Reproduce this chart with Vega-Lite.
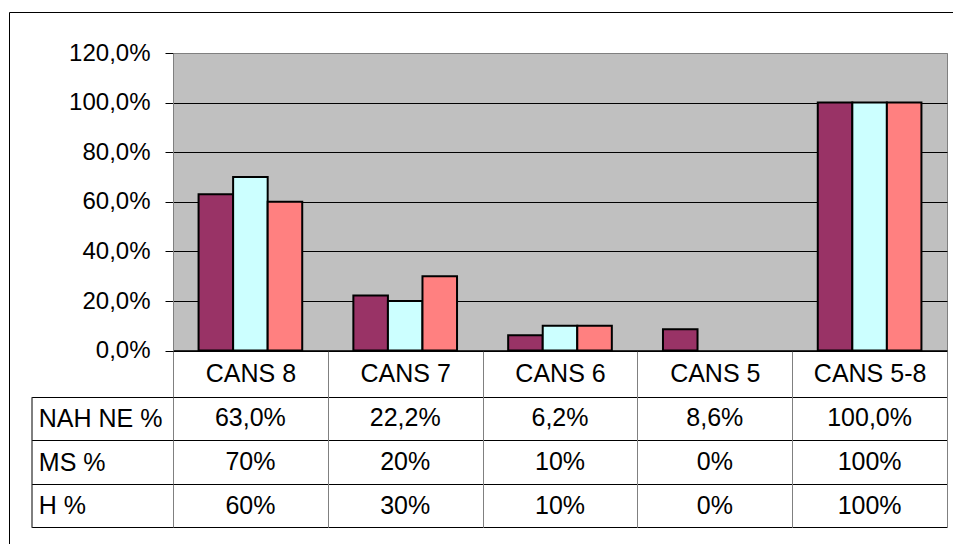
{
  "$schema": "https://vega.github.io/schema/vega-lite/v6.json",
  "autosize": {"type": "none"},
  "width": 774,
  "height": 297.6,
  "padding": {"left": 173, "top": 53, "right": 6, "bottom": 193.4},
  "background": "white",
  "data": {
    "values": [
      {"cat": "CANS 8", "series": "NAH NE %", "value": 0.63},
      {"cat": "CANS 8", "series": "MS %", "value": 0.7},
      {"cat": "CANS 8", "series": "H %", "value": 0.6},
      {"cat": "CANS 7", "series": "NAH NE %", "value": 0.222},
      {"cat": "CANS 7", "series": "MS %", "value": 0.2},
      {"cat": "CANS 7", "series": "H %", "value": 0.3},
      {"cat": "CANS 6", "series": "NAH NE %", "value": 0.062},
      {"cat": "CANS 6", "series": "MS %", "value": 0.1},
      {"cat": "CANS 6", "series": "H %", "value": 0.1},
      {"cat": "CANS 5", "series": "NAH NE %", "value": 0.086},
      {"cat": "CANS 5", "series": "MS %", "value": 0},
      {"cat": "CANS 5", "series": "H %", "value": 0},
      {"cat": "CANS 5-8", "series": "NAH NE %", "value": 1},
      {"cat": "CANS 5-8", "series": "MS %", "value": 1},
      {"cat": "CANS 5-8", "series": "H %", "value": 1}
    ]
  },
  "resolve": {"scale": {"x": "independent", "y": "independent"}, "axis": {"x": "independent", "y": "independent"}},
  "layer": [
    {
      "transform": [{"filter": "datum.value > 0"}],
      "mark": {"type": "bar", "stroke": "black", "strokeWidth": 2},
      "encoding": {
        "x": {
          "field": "cat", "type": "nominal",
          "scale": {"domain": ["CANS 8", "CANS 7", "CANS 6", "CANS 5", "CANS 5-8"], "paddingInner": 0, "paddingOuter": 0},
          "axis": {
            "orient": "bottom", "title": null, "labelAngle": 0,
            "domain": true, "domainColor": "#000000", "domainWidth": 1.5,
            "ticks": true, "tickBand": "extent", "tickSize": 176.7, "tickColor": "#808080", "tickWidth": 1,
            "labelPadding": -153.7, "labelBaseline": "middle", "labelFontSize": 25,
            "labelFont": "Liberation Sans", "labelColor": "#000000", "labelOverlap": false, "grid": false
          }
        },
        "xOffset": {
          "field": "series", "type": "nominal",
          "scale": {"domain": ["NAH NE %", "MS %", "H %"], "paddingInner": 0, "paddingOuter": 0.74}
        },
        "y": {
          "field": "value", "type": "quantitative",
          "scale": {"domain": [0, 1.2], "nice": false},
          "axis": {
            "orient": "left", "title": null, "values": [0, 0.2, 0.4, 0.6, 0.8, 1.0, 1.2],
            "format": ".1%", "labelFontSize": 24, "labelFont": "Liberation Sans", "labelColor": "#000000",
            "labelPadding": 15, "tickSize": 8, "tickColor": "#000000", "domainColor": "#808080",
            "grid": true, "gridColor": {"condition": {"test": "datum.value > 1.1", "value": "#808080"}, "value": "#000000"},
            "gridWidth": 1
          }
        },
        "color": {
          "field": "series", "type": "nominal",
          "scale": {"domain": ["NAH NE %", "MS %", "H %"], "range": ["#993366", "#CCFFFF", "#FF8080"]},
          "legend": null
        }
      }
    },
    {
      "encoding": {
        "x": {
          "field": "cat", "type": "nominal",
          "scale": {"domain": ["CANS 8", "CANS 7", "CANS 6", "CANS 5", "CANS 5-8"], "paddingInner": 0, "paddingOuter": 0},
          "axis": null
        },
        "y": {
          "field": "series", "type": "nominal",
          "scale": {"domain": ["NAH NE %", "MS %", "H %"], "range": [343.7, 474.3], "paddingInner": 0, "paddingOuter": 0},
          "axis": {
            "orient": "left", "title": null, "domain": false,
            "ticks": true, "tickBand": "extent", "tickSize": 141.3, "tickColor": "#000000",
            "grid": true, "gridColor": "#000000", "gridWidth": 1,
            "labelAlign": "left", "labelBaseline": "middle", "labelPadding": -6.6,
            "labelFontSize": 25, "labelFont": "Liberation Sans", "labelColor": "#000000"
          }
        }
      },
      "layer": [
        {
          "transform": [{"filter": "datum.series == 'NAH NE %'"}],
          "mark": {"type": "text", "font": "Liberation Sans", "fontSize": 25, "color": "#000000", "baseline": "middle"},
          "encoding": {"text": {"field": "value", "type": "quantitative", "format": ".1%"}}
        },
        {
          "transform": [{"filter": "datum.series != 'NAH NE %'"}],
          "mark": {"type": "text", "font": "Liberation Sans", "fontSize": 25, "color": "#000000", "baseline": "middle"},
          "encoding": {"text": {"field": "value", "type": "quantitative", "format": ".0%"}}
        }
      ]
    },
    {
      "mark": {"type": "text", "text": ""},
      "encoding": {
        "y": {
          "field": "series", "type": "nominal",
          "scale": {"domain": ["NAH NE %", "MS %", "H %"], "range": [343.7, 474.3], "paddingInner": 0, "paddingOuter": 0},
          "axis": {"orient": "left", "offset": 141.5, "title": null, "domain": true, "domainColor": "#000000",
                   "ticks": false, "labels": false, "grid": false}
        }
      }
    },
    {
      "mark": {"type": "text", "text": ""},
      "encoding": {
        "x": {
          "field": "cat", "type": "nominal",
          "scale": {"domain": ["CANS 8", "CANS 7", "CANS 6", "CANS 5", "CANS 5-8"], "range": [-164, 900]},
          "axis": {"orient": "top", "offset": 41, "title": null, "domain": true, "domainColor": "#000000",
                   "ticks": false, "labels": false, "grid": false}
        },
        "y": {
          "field": "series", "type": "nominal",
          "scale": {"domain": ["NAH NE %", "MS %", "H %"], "range": [-41, 700]},
          "axis": {"orient": "left", "offset": 164, "title": null, "domain": true, "domainColor": "#000000",
                   "ticks": false, "labels": false, "grid": false}
        }
      }
    }
  ],
  "config": {
    "view": {"fill": "#C0C0C0", "stroke": "#808080", "strokeWidth": 1},
    "locale": {"number": {"decimal": ",", "thousands": ".", "grouping": [3], "currency": ["", " €"]}}
  }
}
